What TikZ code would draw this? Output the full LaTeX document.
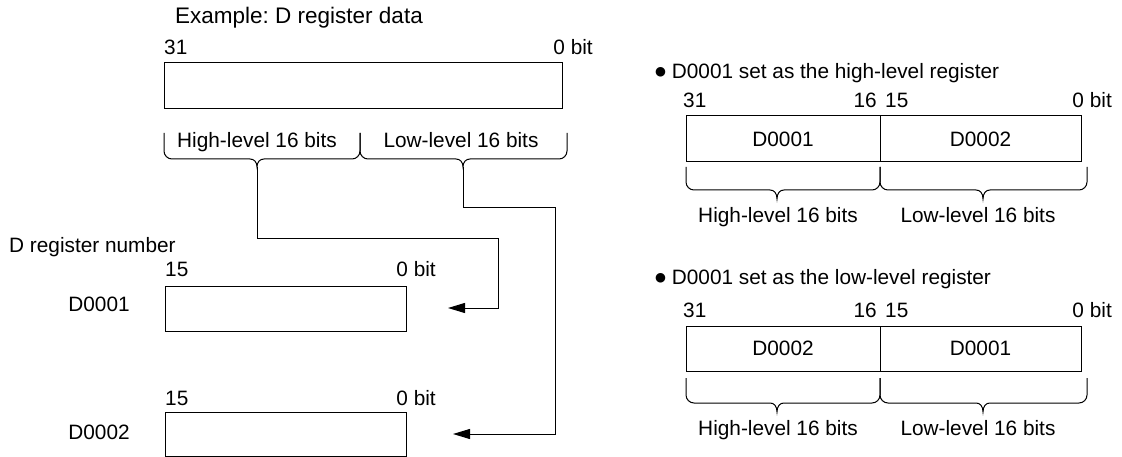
\documentclass[tikz,border=0pt]{standalone}
\usepackage{fontspec}
\setmainfont{Liberation Sans}
\newfontfamily\dejavu{DejaVu Sans}
\usetikzlibrary{arrows.meta}
\frenchspacing
\newcommand\regbrace[6]{%
  \draw[brc] (#1,#4) -- (#1,{#5-8})
    .. controls (#1,{#5-3.6}) and ({#1+3.6},#5) .. ({#1+8},#5)
    -- ({#3-7},#5)
    .. controls ({#3-3},#5) and (#3,{#5+3}) .. (#3,#6)
    .. controls (#3,{#5+3}) and ({#3+3},#5) .. ({#3+7},#5)
    -- ({#2-8},#5)
    .. controls ({#2-3.6},#5) and (#2,{#5-3.6}) .. (#2,{#5-8})
    -- (#2,#4);}
\newcommand\blt{\raisebox{2.5pt}{\fontsize{12.5}{12.5}\dejavu ●}}
\begin{document}
\begin{tikzpicture}[x=1pt,y=-1pt,
  txt/.style={inner sep=0pt, text height=14.7pt, text depth=0pt, font=\fontsize{20.8}{24}\selectfont},
  titletxt/.style={txt, text height=16pt, font=\fontsize{22.5}{26}\selectfont},
  regbox/.style={draw, line width=1pt, inner sep=0pt, font=\fontsize{20.8}{24}\selectfont},
  brc/.style={line width=1pt},
  arr/.style={line width=1pt, -{Triangle[length=17pt,width=10pt]}}]
\useasboundingbox (0,0) rectangle (1122,457);

% ---------- left: example D register data ----------
\node[titletxt, anchor=west] (title) at (175,16) {Example: D register data};
\node[txt, anchor=west] (a31) at (164,47) {31};
\node[txt, anchor=east] (a0) at (593,47) {0 bit};
\node[regbox, minimum width=398pt, minimum height=46pt] (boxA) at (363,86) {};
\regbrace{164}{360}{257}{133}{159}{167}
\regbrace{360}{567}{463}{133}{159}{167}
\node[txt] (aHigh) at (257,140) {High-level 16 bits};
\node[txt] (aLow) at (461,140) {Low-level 16 bits};
\coordinate (tipH) at (257,167);
\coordinate (tipL) at (463,167);

% ---------- left: D register numbers ----------
\node[txt, anchor=west] (regnum) at (9,245) {D register number};
\node[txt, anchor=west] (b15) at (165,269) {15};
\node[txt, anchor=east] (b0) at (436,269) {0 bit};
\node[regbox, minimum width=241pt, minimum height=45pt] (boxD1) at (285.5,308.5) {};
\node[txt] (lD1) at (99,304) {D0001};
\node[txt, anchor=west] (c15) at (165,398) {15};
\node[txt, anchor=east] (c0) at (436,398) {0 bit};
\node[regbox, minimum width=241pt, minimum height=44pt] (boxD2) at (285.5,434) {};
\node[txt] (lD2) at (99,432) {D0002};

% ---------- connectors ----------
\coordinate (bend1) at (498,239);
\coordinate (end1) at (448,308);
\coordinate (bend2) at (555,208);
\coordinate (end2) at (453,434);
\draw[arr] (tipH) |- (bend1) |- (end1);
\draw[arr] (tipL) |- (bend2) |- (end2);

% ---------- right: high-level ----------
\node[txt, anchor=west] (h1) at (655,71) {\blt\ D0001 set as the high-level register};
\node[txt, anchor=west] (h31) at (683,100) {31};
\node[txt, anchor=east] (h16) at (877,100) {16};
\node[txt, anchor=west] (h15) at (885,100) {15};
\node[txt, anchor=east] (h0) at (1112,100) {0 bit};
\node[regbox, minimum width=194pt, minimum height=46pt] (hL) at (783,139) {D0001};
\node[regbox, minimum width=201pt, minimum height=46pt] (hR) at (980.5,139) {D0002};
\regbrace{686}{880}{777}{167}{190}{199}
\regbrace{880}{1087}{983}{167}{190}{199}
\node[txt] (hHigh) at (778,215) {High-level 16 bits};
\node[txt] (hLow) at (978,215) {Low-level 16 bits};

% ---------- right: low-level ----------
\node[txt, anchor=west] (l1) at (655,277) {\blt\ D0001 set as the low-level register};
\node[txt, anchor=west] (l31) at (683,310) {31};
\node[txt, anchor=east] (l16) at (877,310) {16};
\node[txt, anchor=west] (l15) at (885,310) {15};
\node[txt, anchor=east] (l0) at (1112,310) {0 bit};
\node[regbox, minimum width=194pt, minimum height=45pt] (lL) at (783,348.5) {D0002};
\node[regbox, minimum width=201pt, minimum height=45pt] (lR) at (980.5,348.5) {D0001};
\regbrace{686}{880}{777}{378}{403}{412}
\regbrace{880}{1087}{983}{378}{403}{412}
\node[txt] (lHigh) at (778,428) {High-level 16 bits};
\node[txt] (lLow) at (978,428) {Low-level 16 bits};
\end{tikzpicture}
\end{document}
